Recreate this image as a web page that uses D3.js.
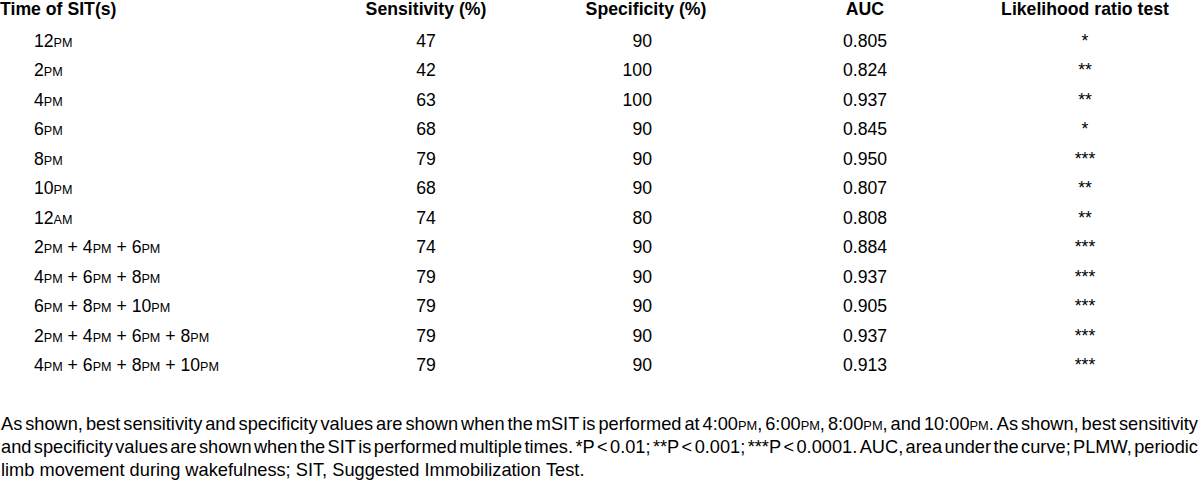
<!DOCTYPE html>
<html>
<head>
<meta charset="utf-8">
<script src="https://cdn.jsdelivr.net/npm/d3@7"></script>
<style>
  html, body { margin: 0; padding: 0; background: #fff; }
  svg { display: block; }
  text { font-family: "Liberation Sans Narrow", "Arial Narrow", "Liberation Sans", Arial, sans-serif; fill: #000; }
</style>
</head>
<body>
<svg id="chart" width="1200" height="487"></svg>
<script>
// ---------- data ----------
const headers = ["Time of SIT(s)", "Sensitivity (%)", "Specificity (%)", "AUC", "Likelihood ratio test"];
const times = ["12PM", "2PM", "4PM", "6PM", "8PM", "10PM", "12AM",
  "2PM + 4PM + 6PM", "4PM + 6PM + 8PM", "6PM + 8PM + 10PM",
  "2PM + 4PM + 6PM + 8PM", "4PM + 6PM + 8PM + 10PM"];
const sensitivity = [47, 42, 63, 68, 79, 68, 74, 74, 79, 79, 79, 79];
const specificity = [90, 100, 100, 90, 90, 90, 80, 90, 90, 90, 90, 90];
const auc = [0.805, 0.824, 0.937, 0.845, 0.950, 0.807, 0.808, 0.884, 0.937, 0.905, 0.937, 0.913];
const lrt = ["*", "**", "**", "*", "***", "**", "**", "***", "***", "***", "***", "***"];
const footLines = [
  "As shown, best sensitivity and specificity values are shown when the mSIT is performed at 4:00PM, 6:00PM, 8:00PM, and 10:00PM. As shown, best sensitivity",
  "and specificity values are shown when the SIT is performed multiple times. *P < 0.01; **P < 0.001; ***P < 0.0001. AUC, area under the curve; PLMW, periodic",
  "limb movement during wakefulness; SIT, Suggested Immobilization Test."
];

// ---------- layout ----------
const bodySize = 18.2, smallSize = 13, headSize = 17.5, footSize = 18.5;
const bodySX = 0.97, headSX = 1.01, footSX = 0.985;
const svg = d3.select("#chart");

const y = d3.scalePoint().domain(d3.range(times.length)).range([47, 371]);

// append text with small-caps AM/PM
function richText(sel, str, size) {
  const parts = str.split(/(AM|PM)/).filter(s => s.length);
  parts.forEach(p => {
    sel.append("tspan")
      .attr("font-size", (p === "AM" || p === "PM") ? smallSize : size)
      .text(p);
  });
  return sel;
}
function place(sel, x, yy, sx) {
  return sel.attr("transform", `translate(${x},${yy}) scale(${sx},1)`);
}

// header
const headPos = [
  {x: 0, anchor: "start"},
  {x: 426, anchor: "middle"},
  {x: 646, anchor: "middle"},
  {x: 865, anchor: "middle"},
  {x: 1085, anchor: "middle"}
];
svg.append("g").selectAll("text").data(headers).join("text")
  .attr("transform", (d, i) => `translate(${headPos[i].x},15) scale(${headSX},1)`)
  .attr("text-anchor", (d, i) => headPos[i].anchor)
  .attr("font-size", headSize)
  .attr("font-weight", "bold")
  .text(d => d);

// body rows
const rows = svg.append("g").selectAll("g").data(d3.range(times.length)).join("g")
  .attr("transform", i => `translate(0,${y(i)})`);

rows.append("text").attr("font-size", bodySize)
  .attr("transform", `translate(34,0) scale(${bodySX},1)`)
  .each(function(i) { richText(d3.select(this), times[i], bodySize); });
rows.append("text").attr("text-anchor", "middle").attr("font-size", bodySize)
  .attr("transform", `translate(426,0) scale(${bodySX},1)`)
  .text(i => sensitivity[i]);
rows.append("text").attr("text-anchor", "end").attr("font-size", bodySize)
  .attr("transform", `translate(652,0) scale(${bodySX},1)`)
  .text(i => specificity[i]);
rows.append("text").attr("text-anchor", "middle").attr("font-size", bodySize)
  .attr("transform", `translate(865,0) scale(${bodySX},1)`)
  .text(i => d3.format(".3f")(auc[i]));
rows.append("text").attr("text-anchor", "middle").attr("font-size", bodySize)
  .attr("transform", `translate(1085,0) scale(${bodySX},1)`)
  .text(i => lrt[i]);

// footnote, justified (last line left-aligned with normal spacing)
const footY = [430, 453, 475.5];
const left = 1, right = 1198;
const foot = svg.append("g");
const spaceW = footSize * 0.278 * footSX;
footLines.forEach((line, li) => {
  const words = line.split(" ");
  const nodes = words.map(wd => richText(foot.append("text").attr("font-size", footSize), wd, footSize));
  const widths = nodes.map(n => n.node().getComputedTextLength() * footSX);
  const total = d3.sum(widths);
  const justify = li < footLines.length - 1;
  const gap = justify ? (right - left - total) / (words.length - 1) : spaceW;
  let x = left;
  nodes.forEach((n, k) => { place(n, x, footY[li], footSX); x += widths[k] + gap; });
});
</script>
</body>
</html>
